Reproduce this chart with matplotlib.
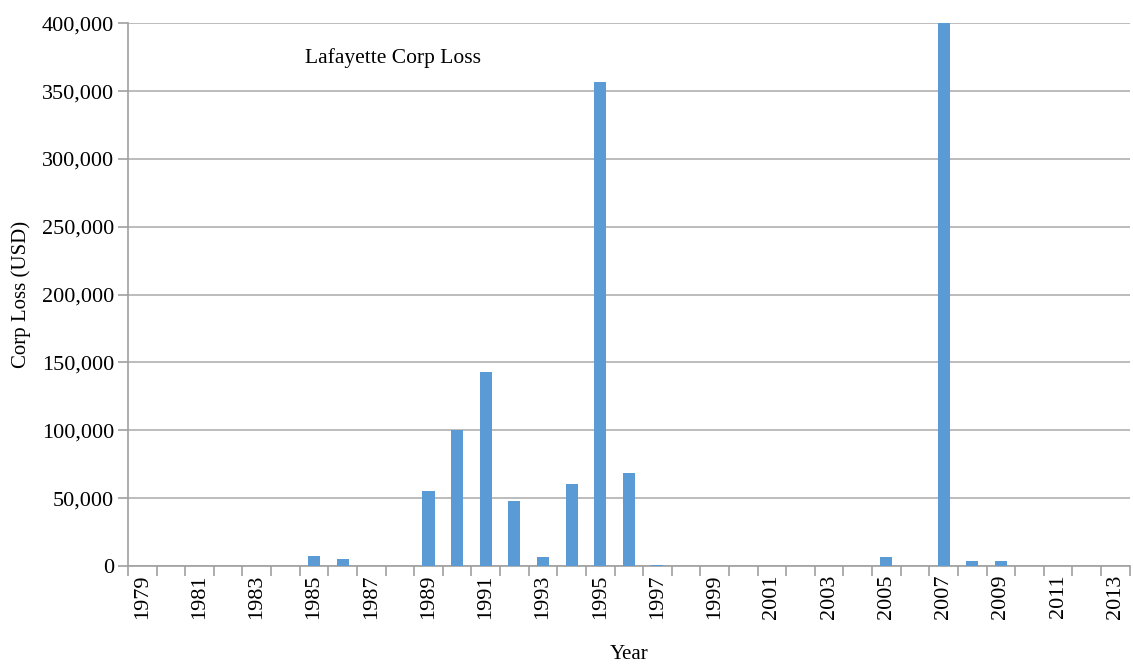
import matplotlib.pyplot as plt
from matplotlib.ticker import FuncFormatter

years = list(range(1979, 2014))
loss = [0, 0, 0, 0, 0, 0, 7000, 5000, 0, 0,
        55000, 100000, 143000, 48000, 6500, 60500, 357000, 68500, 1000, 0,
        0, 0, 0, 0, 0, 0, 6500, 300, 400000, 3500,
        3500, 0, 0, 0, 0]

plt.rcParams['font.family'] = ['Liberation Serif', 'DejaVu Serif']

fig = plt.figure(figsize=(11.33, 6.65), dpi=100)
ax = fig.add_axes([0.113, 0.149, 0.884, 0.816])

x = list(range(len(years)))
ax.bar(x, loss, width=0.42, color='#5b9bd5', zorder=3)

ax.set_xlim(-0.5, len(years) - 0.5)
ax.set_ylim(0, 400000)
ax.set_yticks(range(0, 400001, 50000))
ax.yaxis.set_major_formatter(FuncFormatter(lambda v, p: f'{int(v):,}'))
ax.grid(axis='y', color='#b0b0b0', linewidth=1.2, zorder=0)

ax.set_xticks(x[::2])
ax.set_xticklabels([str(y) for y in years[::2]], rotation=90)
ax.set_xticks([i - 0.5 for i in range(len(years) + 1)], minor=True)
ax.tick_params(axis='x', which='major', length=0, pad=6, labelsize=16)
ax.tick_params(axis='x', which='minor', length=7, color='#a0a0a0', width=1.2)
ax.tick_params(axis='y', length=7, color='#a0a0a0', width=1.2, labelsize=16,
               pad=3)

for side in ['top', 'right']:
    ax.spines[side].set_visible(False)
ax.spines['left'].set_color('#a0a0a0')
ax.spines['bottom'].set_color('#a0a0a0')
ax.spines['left'].set_linewidth(1.2)
ax.spines['bottom'].set_linewidth(1.2)

ax.text(0.177, 0.935, 'Lafayette Corp Loss', transform=ax.transAxes,
        fontsize=15.5, ha='left', va='center')
ax.set_ylabel('Corp Loss (USD)', fontsize=15, labelpad=8)
ax.set_xlabel('Year', fontsize=15, labelpad=19)

fig.savefig('out.png', dpi=100)
